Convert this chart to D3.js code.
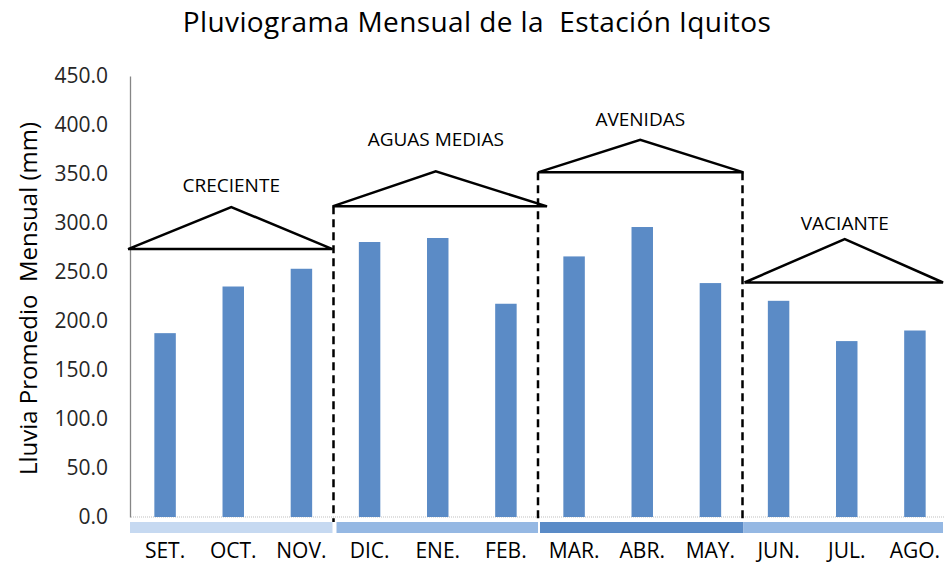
<!DOCTYPE html>
<html>
<head>
<meta charset="utf-8">
<script src="https://cdn.jsdelivr.net/npm/d3@7"></script>
<style>
  html, body { margin: 0; padding: 0; background: #fff; }
  svg { display: block; font-family: "Open Sans", "Noto Sans", sans-serif; }
  text { white-space: pre; }
</style>
</head>
<body>
<svg id="chart" width="949" height="564"></svg>
<script>
// Monthly rainfall, hydrological year starting in September
const months = ["SET.", "OCT.", "NOV.", "DIC.", "ENE.", "FEB.", "MAR.", "ABR.", "MAY.", "JUN.", "JUL.", "AGO."];
const rainfall = [187.6, 235.2, 253.3, 280.6, 284.7, 217.6, 265.9, 295.9, 238.7, 220.6, 179.5, 190.3];
const yTicks = [0, 50, 100, 150, 200, 250, 300, 350, 400, 450];

// River phases: three months each
const phases = ["CRECIENTE", "AGUAS MEDIAS", "AVENIDAS", "VACIANTE"];
const phaseBase = [273.4, 317.0, 351.7, 239.3];   // roof base level (mm)
const phaseApex = [316.3, 352.7, 385.0, 283.6];   // roof apex level (mm)
const phaseLabel = [332, 379, 398.7, 292.4];      // label baseline level (mm)
const phaseColors = ["#c6d9f1", "#95b8e3", "#5a8bc7", "#95b8e3"];

const svg = d3.select("#chart");
const margin = { left: 131, right: 0, top: 76, bottom: 47 };
const W = 949, H = 564;

const x = d3.scaleBand()
  .domain(months)
  .range([margin.left, W - margin.right])
  .paddingInner(0.685)
  .paddingOuter(0.3425);

const y = d3.scaleLinear()
  .domain([0, 450])
  .range([H - margin.bottom, margin.top]);

const step = x.step();
const groupEdges = d3.range(5).map(i => margin.left + i * 3 * step);

// Title
svg.append("text")
  .attr("x", 477).attr("y", 32)
  .attr("text-anchor", "middle")
  .attr("font-size", 28)
  .attr("letter-spacing", 0.4)
  .attr("fill", "#000")
  .text("Pluviograma Mensual de la  Estación Iquitos");

// Y axis
const yAxis = d3.axisLeft(y)
  .tickValues(yTicks)
  .tickFormat(d3.format(".1f"))
  .tickSize(0)
  .tickPadding(22);
const gy = svg.append("g")
  .attr("transform", `translate(${margin.left - 1},0)`)
  .call(yAxis);
gy.select(".domain").attr("stroke", "#868686").attr("stroke-width", 1.3);
gy.selectAll(".tick text")
  .attr("font-size", 21)
  .attr("font-family", "\"Open Sans\", sans-serif")
  .attr("fill", "#262626");

// Y axis title
svg.append("text")
  .attr("transform", `translate(37,${(y(0) + y(450)) / 2 + 2}) rotate(-90)`)
  .attr("text-anchor", "middle")
  .attr("font-size", 24)
  .attr("fill", "#000")
  .text("Lluvia Promedio  Mensual (mm)");

// Dotted baseline
svg.append("line")
  .attr("x1", margin.left).attr("x2", W - 4)
  .attr("y1", y(0)).attr("y2", y(0))
  .attr("stroke", "#bfbfbf")
  .attr("stroke-width", 1)
  .attr("stroke-dasharray", "1,1");

// Bars
svg.append("g").selectAll("rect")
  .data(months)
  .join("rect")
  .attr("x", d => x(d))
  .attr("width", x.bandwidth())
  .attr("y", (d, i) => y(rainfall[i]))
  .attr("height", (d, i) => y(0) - y(rainfall[i]))
  .attr("fill", "#5b8bc6");

// Phase colour bands under the axis
const bandGaps = [[0, 2], [2, 1], [1, 0], [0, 5]];
svg.append("g").selectAll("rect")
  .data(phases)
  .join("rect")
  .attr("x", (d, i) => groupEdges[i] - 1 + bandGaps[i][0])
  .attr("width", (d, i) => groupEdges[i + 1] - groupEdges[i] - bandGaps[i][0] - bandGaps[i][1])
  .attr("y", y(0) + 5)
  .attr("height", 11)
  .attr("fill", (d, i) => phaseColors[i]);

// Month labels
svg.append("g").selectAll("text")
  .data(months)
  .join("text")
  .attr("x", d => x(d) + x.bandwidth() / 2)
  .attr("y", 558)
  .attr("text-anchor", "middle")
  .attr("font-size", 21)
  .attr("fill", "#000")
  .text(d => d);

// Dashed dividers between phases
const dividers = [
  { edge: 1, top: phaseBase[1] },
  { edge: 2, top: phaseBase[2] },
  { edge: 3, top: phaseBase[2] }
];
svg.append("g").selectAll("line")
  .data(dividers)
  .join("line")
  .attr("x1", d => groupEdges[d.edge] - 2)
  .attr("x2", d => groupEdges[d.edge] - 2)
  .attr("y1", d => y(d.top))
  .attr("y2", y(0) + 5)
  .attr("stroke", "#000")
  .attr("stroke-width", 2.5)
  .attr("stroke-dasharray", "8,5");

// Phase roofs (triangles) and labels
const roofEnds = [[-3, -3], [-3, 7], [-2, -1], [0, -6]];
const roofs = svg.append("g");
phases.forEach((p, i) => {
  const x0 = groupEdges[i] + roofEnds[i][0];
  const x1 = groupEdges[i + 1] + roofEnds[i][1];
  const xm = (groupEdges[i] + groupEdges[i + 1]) / 2 - 2;
  roofs.append("path")
    .attr("d", d3.line()([[x0, y(phaseBase[i])], [xm, y(phaseApex[i])], [x1, y(phaseBase[i])], [x0, y(phaseBase[i])]]))
    .attr("fill", "none")
    .attr("stroke", "#000")
    .attr("stroke-width", 2.5)
    .attr("stroke-linejoin", "miter");
  roofs.append("text")
    .attr("x", xm)
    .attr("y", y(phaseLabel[i]))
    .attr("text-anchor", "middle")
    .attr("font-size", 19)
    .attr("fill", "#000")
    .text(p);
});
</script>
</body>
</html>
